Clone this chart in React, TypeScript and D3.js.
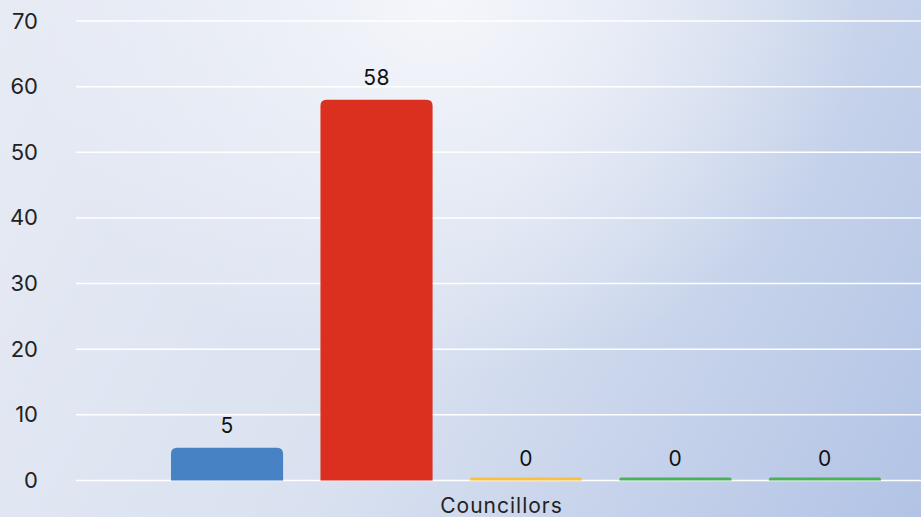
import React from "react";
import * as d3 from "d3";

const categories = ["Councillors"];
const seriesNames = ["Series 1", "Series 2", "Series 3", "Series 4", "Series 5"];
const seriesValues = [5, 58, 0, 0, 0];
const seriesColors = ["#4682c4", "#db2f20", "#f5c242", "#4caf5c", "#4caf5c"];
const yTicks = [0, 10, 20, 30, 40, 50, 60, 70];

const W = 921;
const H = 517;
const FONT = "Inter, 'Noto Sans', sans-serif";

function topRoundedRect(x: number, y: number, w: number, h: number, r: number) {
  const rr = Math.min(r, h, w / 2);
  return `M${x},${y + h}V${y + rr}Q${x},${y} ${x + rr},${y}H${x + w - rr}Q${x + w},${y} ${x + w},${y + rr}V${y + h}Z`;
}

export default function App() {
  const y = d3.scaleLinear().domain([0, 70]).range([480.5, 21]);
  const x = d3
    .scaleBand<string>()
    .domain(seriesNames)
    .range([152.3, 899.7])
    .paddingInner(0.25)
    .paddingOuter(0.125);

  return (
    <svg
      width={W}
      height={H}
      style={{ position: "fixed", left: 0, top: 0 }}
      fontFamily={FONT}
    >
      <defs>
        <linearGradient id="bgLin" x1="0" y1="0" x2={W} y2={H} gradientUnits="userSpaceOnUse">
          <stop offset="0" stopColor="#e7ebf4" />
          <stop offset="0.5" stopColor="#d9e1f0" />
          <stop offset="1" stopColor="#b2c3e5" />
        </linearGradient>
        <radialGradient id="bgGlow" cx={440} cy={0} r={420} gradientUnits="userSpaceOnUse"
          gradientTransform="translate(440 0) scale(1 0.9) translate(-440 0)">
          <stop offset="0" stopColor="#f6f7fb" stopOpacity={0.95} />
          <stop offset="0.5" stopColor="#f3f5fa" stopOpacity={0.5} />
          <stop offset="1" stopColor="#f3f5fa" stopOpacity={0} />
        </radialGradient>
      </defs>
      <rect x={0} y={0} width={W} height={H} fill="url(#bgLin)" />
      <rect x={0} y={0} width={W} height={H} fill="url(#bgGlow)" />
      {yTicks.map((t) => (
        <g key={t}>
          <line x1={76} x2={W} y1={y(t)} y2={y(t)} stroke="#ffffff" strokeWidth={1.5} />
          <text x={38} y={y(t) + 7.5} textAnchor="end" fontSize={22} fill="#222">
            {t}
          </text>
        </g>
      ))}
      {seriesNames.map((s, i) => {
        const v = seriesValues[i];
        const bx = x(s) as number;
        const bw = x.bandwidth();
        const top = Math.min(y(v), y(0) - 3);
        const h = y(0) - top;
        return (
          <g key={s}>
            <path d={topRoundedRect(bx, top, bw, h, v === 0 ? 2 : 6)} fill={seriesColors[i]} />
            <text
              x={bx + bw / 2}
              y={y(v) - 14.5}
              textAnchor="middle"
              fontSize={21}
              letterSpacing={0.5}
              fill="#111"
            >
              {v}
            </text>
          </g>
        );
      })}
      <text x={501.5} y={513} textAnchor="middle" fontSize={21} letterSpacing={1} fill="#222">
        {categories[0]}
      </text>
    </svg>
  );
}
